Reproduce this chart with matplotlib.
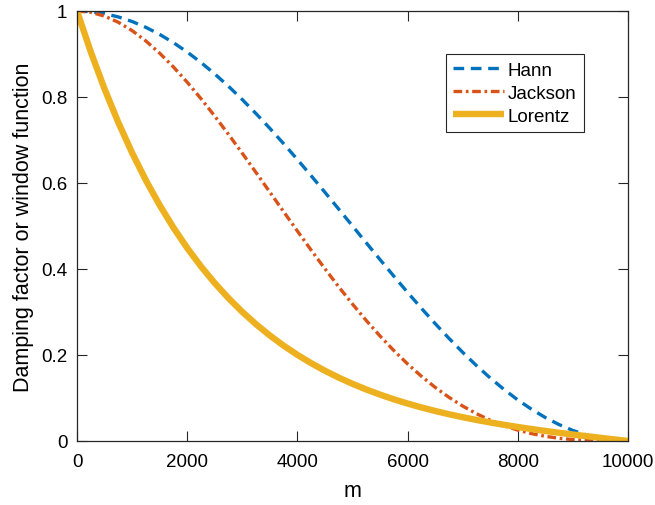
import numpy as np
import matplotlib.pyplot as plt

plt.rcParams['font.family'] = ['Liberation Sans', 'DejaVu Sans']

# m sampled every 250 points from 0 to 10000
m = np.arange(0, 10001, 250)

hann = [1.0, 0.99846, 0.99384, 0.98618, 0.97553, 0.96194, 0.94550, 0.92632,
        0.90451, 0.88020, 0.85355, 0.82472, 0.79389, 0.76125, 0.72700, 0.69134,
        0.65451, 0.61672, 0.57822, 0.53923, 0.5, 0.46077, 0.42178, 0.38328,
        0.34549, 0.30866, 0.27300, 0.23875, 0.20611, 0.17528, 0.14645, 0.11980,
        0.09549, 0.07368, 0.05450, 0.03806, 0.02447, 0.01382, 0.00616, 0.00154, 0.0]

jackson = [1.0, 0.99697, 0.98810, 0.97375, 0.95431, 0.93021, 0.90187, 0.86975,
           0.83432, 0.79605, 0.75541, 0.71289, 0.66897, 0.62409, 0.57871, 0.53326,
           0.48814, 0.44375, 0.40043, 0.35852, 0.31831, 0.28006, 0.24400, 0.21030,
           0.17912, 0.15057, 0.12472, 0.10159, 0.08118, 0.06344, 0.04830, 0.03564,
           0.02530, 0.01711, 0.01086, 0.00632, 0.00325, 0.00138, 0.00041, 0.00005, 0.0]

lorentz = [1.0, 0.90477, 0.81859, 0.74061, 0.67004, 0.60619, 0.54838, 0.49608,
           0.44874, 0.40590, 0.36710, 0.33198, 0.30018, 0.27139, 0.24532, 0.22170,
           0.20030, 0.18091, 0.16332, 0.14738, 0.13290, 0.11976, 0.10781, 0.09694,
           0.08705, 0.07802, 0.06978, 0.06224, 0.05531, 0.04894, 0.04306, 0.03762,
           0.03254, 0.02780, 0.02333, 0.01909, 0.01505, 0.01116, 0.00738, 0.00367, 0.0]

fig = plt.figure(figsize=(6.55, 5.06), dpi=100)
ax = fig.add_axes([0.1176, 0.1265, 0.8412, 0.8498])

ax.plot(m, hann, color='#0072BD', lw=2.4, dashes=(3.2, 2.0), label='Hann')
ax.plot(m, jackson, color='#D95319', lw=2.4, dashes=(2.6, 1.1, 0.8, 1.1), label='Jackson')
ax.plot(m, lorentz, color='#EDB120', lw=4.6, label='Lorentz', solid_capstyle='butt')

ax.set_xlim(0, 10000)
ax.set_ylim(0, 1)
ax.set_xticks([0, 2000, 4000, 6000, 8000, 10000])
ax.set_yticks([0, 0.2, 0.4, 0.6, 0.8, 1])
ax.set_yticklabels(['0', '0.2', '0.4', '0.6', '0.8', '1'])
ax.tick_params(direction='in', length=7, width=0.8, labelsize=13.5,
               top=True, right=True, color='#262626')
ax.tick_params(axis='x', pad=9)
ax.tick_params(axis='y', pad=7)
for s in ax.spines.values():
    s.set_color('#262626')
    s.set_linewidth(0.9)

ax.set_xlabel('m', fontsize=15.5, labelpad=7)
ax.set_ylabel('Damping factor or window function', fontsize=15.5, labelpad=5)

leg = ax.legend(loc='upper right', bbox_to_anchor=(0.92, 0.90), borderaxespad=0,
                fontsize=13.5, handlelength=2.7, handletextpad=0.2, labelspacing=0.32,
                fancybox=False, framealpha=1, edgecolor='#262626', borderpad=0.4)
leg.get_frame().set_linewidth(0.8)

fig.savefig('out.png', dpi=100)
